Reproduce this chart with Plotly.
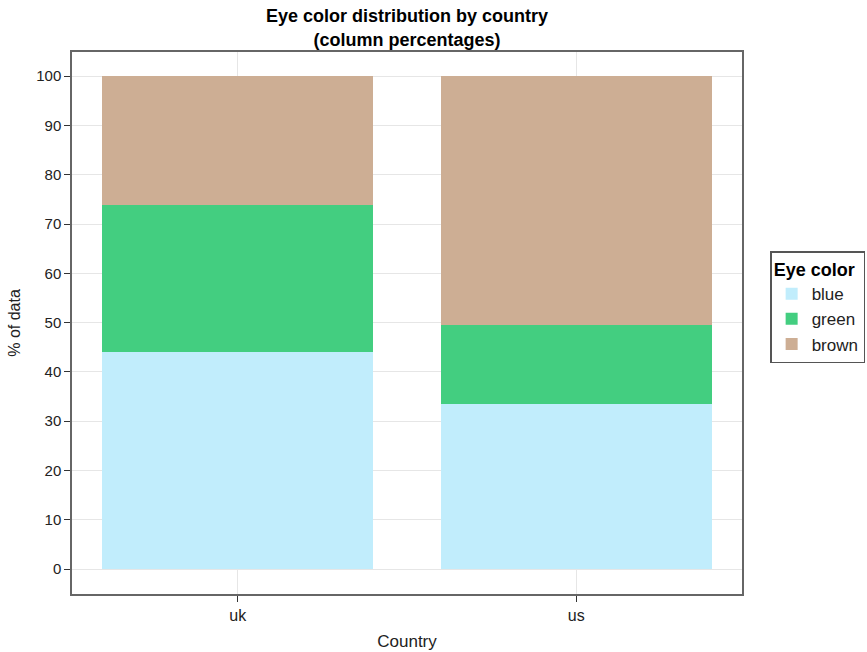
import plotly.graph_objects as go

countries = ["uk", "us"]
eye_colors = ["blue", "green", "brown"]
blue_pct = [44.1, 33.4]
green_pct = [29.7, 16.2]
brown_pct = [26.2, 50.4]
colors = ["#C1EDFC", "#43CE80", "#CDAE94"]
y_ticks = [0, 10, 20, 30, 40, 50, 60, 70, 80, 90, 100]

fig = go.Figure()
for name, vals, col in zip(eye_colors, [blue_pct, green_pct, brown_pct], colors):
    fig.add_trace(go.Bar(x=countries, y=vals, name=name, marker=dict(color=col, line=dict(width=0))))

font = "Liberation Sans, Arial, sans-serif"
fig.update_layout(
    barmode="stack",
    bargap=0.2,
    width=867, height=652,
    margin=dict(l=72, r=125, t=52, b=58, autoexpand=False),
    paper_bgcolor="white", plot_bgcolor="white",
    font=dict(family=font, size=15, color="#222"),
    title=dict(text="<b>Eye color distribution by country<br>(column percentages)</b>",
               x=0.4695, xanchor="center", y=0.966, yanchor="top",
               font=dict(size=18, family=font, color="black")),
    legend=dict(title=dict(text="<b>Eye color</b>", font=dict(size=18, color="black")),
                traceorder="normal",
                x=1.042, xanchor="left", y=0.529, yanchor="middle",
                bordercolor="#555", borderwidth=1.5, font=dict(size=17),
                tracegroupgap=0, itemwidth=30),
    showlegend=True,
)
fig.update_xaxes(
    title=dict(text="Country", standoff=12, font=dict(size=17)), range=[-0.49, 1.49],
    tickfont=dict(size=16),
    automargin=False,
    showgrid=True, gridcolor="#e6e6e6", gridwidth=1,
    showline=True, linecolor="#666", linewidth=1.5, mirror=True,
    ticks="outside", ticklen=6, tickcolor="#333",
)
fig.update_yaxes(
    title=dict(text="% of data", standoff=12, font=dict(size=16)), range=[-5.07, 104.9],
    tickfont=dict(size=15),
    automargin=False,
    tickvals=y_ticks,
    showgrid=True, gridcolor="#e6e6e6", gridwidth=1, zeroline=False,
    showline=True, linecolor="#666", linewidth=1.5, mirror=True,
    ticks="outside", ticklen=6, tickcolor="#333",
)
fig.write_html("out.html", config={"displayModeBar": False},
               post_script="document.body.style.margin='0';")
